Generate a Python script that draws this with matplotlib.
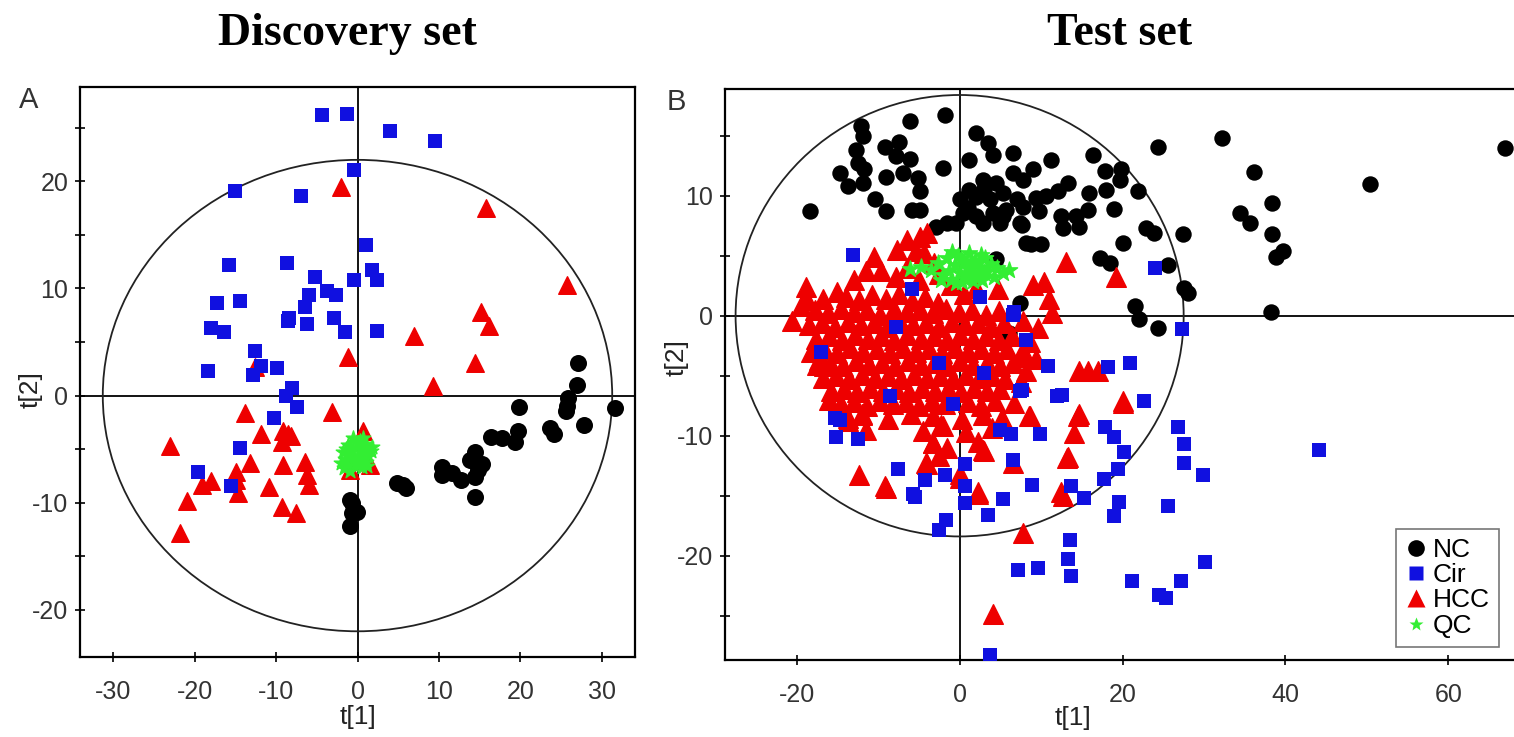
import numpy as np
import matplotlib
matplotlib.use("Agg")
import matplotlib.pyplot as plt
from matplotlib.patches import Ellipse
from matplotlib.lines import Line2D
from matplotlib.ticker import MultipleLocator

plt.rcParams['font.family'] = ['Liberation Sans', 'DejaVu Sans']
plt.rcParams['axes.unicode_minus'] = False

# ---------------- data: Discovery set (panel A) ----------------
A_nc = [(27.1,3.0),(27.0,1.0),(25.9,-0.2),(25.8,-1.0),(25.6,-1.4),(31.6,-1.2),(19.8,-1.1),
        (27.8,-2.7),(23.6,-3.0),(24.1,-3.6),(19.7,-3.3),(19.3,-4.3),(17.8,-4.0),(16.4,-3.9),
        (14.4,-5.3),(13.8,-6.0),(15.3,-6.4),(14.8,-6.9),(10.4,-6.7),(10.4,-7.4),(11.6,-7.2),
        (12.7,-7.9),(14.4,-7.6),(14.4,-9.5),(4.9,-8.2),(5.6,-8.3),(5.9,-8.6),(-0.9,-9.7),
        (-0.1,-10.9),(-0.7,-11.0),(-0.9,-12.2),(-0.7,-10.0)]
A_cir = [(-4.4,26.2),(-1.3,26.3),(4.0,24.7),(9.5,23.8),(-0.4,21.1),(-15.1,19.1),(-6.9,18.6),
         (1.1,14.1),(-15.8,12.2),(-8.7,12.4),(-5.2,11.1),(-0.4,10.8),(1.8,11.7),(2.4,10.8),
         (-17.3,8.6),(-14.5,8.8),(-6.0,9.4),(-3.8,9.8),(-2.7,9.4),(-6.4,8.3),(-8.4,7.2),
         (-8.6,7.0),(-6.2,6.7),(-2.9,7.2),(-1.5,5.9),(2.4,6.0),(-18.0,6.3),(-16.4,5.9),
         (-12.6,4.2),(-11.8,2.8),(-9.9,2.6),(-18.4,2.3),(-12.9,1.9),(-8.0,0.7),(-8.8,0.0),
         (-7.4,-1.1),(-10.2,-2.1),(-14.5,-4.9),(-19.6,-7.1),(-15.6,-8.4)]
A_hcc = [(-2.0,19.5),(15.8,17.5),(25.8,10.3),(15.2,7.8),(16.1,6.5),(6.9,5.6),(-1.2,3.6),
         (14.4,3.0),(-12.6,2.7),(9.3,0.9),(-13.8,-1.6),(-3.1,-1.5),(-23.0,-4.7),(-11.8,-3.6),
         (-9.2,-3.3),(-8.6,-3.6),(-9.3,-4.3),(-8.2,-3.8),(0.7,-3.3),(-13.2,-6.3),(-9.1,-6.5),
         (-6.4,-6.2),(-6.2,-7.4),(-6.0,-8.3),(-14.9,-7.1),(-14.9,-7.9),(-18.0,-8.0),(-19.1,-8.3),
         (-14.7,-9.1),(-10.9,-8.5),(-21.0,-9.8),(-9.3,-10.4),(-7.6,-11.0),(-21.8,-12.8),
         (-0.9,-6.9),(1.5,-6.5)]
A_qc = [(-0.5,-4.0),(0.3,-4.2),(1.0,-4.5),(-1.2,-4.6),(-0.2,-4.8),(0.8,-5.0),(1.6,-5.2),
        (-1.8,-5.3),(-1.0,-5.4),(0.0,-5.5),(0.6,-5.7),(1.3,-5.6),(-1.5,-5.9),(-0.6,-6.0),
        (0.2,-6.1),(1.0,-6.2),(-2.0,-6.3),(-1.2,-6.5),(-0.3,-6.6),(0.5,-6.7),(-0.9,-7.0),
        (0.1,-4.4),(-0.8,-5.1),(1.8,-4.8),(-1.6,-6.8),(0.7,-4.0),(0.4,-5.3),(-0.4,-5.9),
        (-1.4,-5.0),(1.2,-6.6)]

# ---------------- data: Test set (panel B) ----------------
B_nc = [(-18.4,8.7),(-12.1,15.8),(-12.7,13.8),(-12.5,12.7),(-14.7,11.9),(-13.7,10.8),(-11.9,11.1),
        (-11.7,12.2),(-10.4,9.7),(-9.0,8.7),(-9.2,14.1),(-7.4,14.5),(-6.1,16.2),(-1.8,16.7),
        (-7.8,13.3),(-6.1,13.1),(-9.0,11.6),(-7.0,11.9),(-5.1,11.5),(-4.9,10.4),(-5.9,8.8),
        (-4.9,8.8),(-2.1,12.3),(-2.9,7.4),(-1.6,7.7),(0.0,9.7),(1.2,10.5),(2.0,15.2),(3.5,14.4),
        (4.1,13.4),(6.5,13.6),(1.2,13.0),(2.9,11.3),(4.5,11.1),(6.5,11.9),(7.8,11.3),(2.0,9.9),
        (3.7,9.7),(5.3,10.2),(7.0,9.7),(0.4,8.6),(2.0,8.3),(4.1,8.6),(5.7,8.8),(7.4,7.7),
        (4.9,7.7),(2.9,7.7),(-0.4,7.7),(8.2,6.1),(4.5,4.7),(-11.9,15.0),(1.0,9.0),(3.0,10.6),
        (24.3,14.1),(32.2,14.8),(67.0,14.0),(50.4,11.0),(36.1,12.0),(38.4,9.4),(34.4,8.6),
        (35.7,7.7),(38.4,6.8),(39.7,5.4),(38.8,4.9),(38.2,0.3),(16.4,13.4),(17.8,12.1),
        (19.8,12.2),(19.7,11.3),(21.9,10.4),(11.2,13.0),(9.0,12.2),(13.3,11.1),(12.1,10.4),
        (15.9,10.2),(18.0,10.5),(19.0,8.9),(15.7,8.8),(14.3,8.3),(12.5,8.3),(9.8,8.7),(7.8,9.1),
        (5.3,8.3),(7.6,7.6),(12.7,7.3),(14.7,7.4),(22.9,7.3),(23.9,6.9),(27.4,6.8),(20.0,6.1),
        (8.8,6.0),(10.0,6.0),(17.2,4.8),(18.4,4.4),(25.6,4.2),(27.6,2.3),(28.0,1.9),(21.5,0.8),
        (22.0,-0.3),(24.3,-1.0),(7.4,1.1),(6.0,-1.4),(10.6,10.0),(9.4,9.8)]
B_cir = [(27.3,-1.1),(10.8,-4.2),(18.2,-4.3),(20.9,-3.9),(11.9,-6.7),(12.6,-6.6),(22.6,-7.1),
         (17.8,-9.3),(18.9,-10.1),(20.2,-11.4),(26.8,-9.3),(27.5,-10.7),(27.5,-12.3),(29.9,-13.3),
         (19.4,-12.8),(17.7,-13.6),(44.1,-11.2),(9.9,-9.9),(4.9,-9.5),(6.3,-9.9),(6.5,-12.0),
         (8.9,-14.1),(13.7,-14.2),(15.3,-15.2),(5.3,-15.3),(19.6,-15.5),(18.9,-16.7),(25.6,-15.9),
         (3.5,-16.6),(0.6,-12.4),(0.7,-14.2),(0.7,-15.6),(-1.8,-13.3),(-4.3,-13.7),(-7.6,-12.8),
         (-5.5,-15.1),(-1.7,-17.0),(-2.5,-17.9),(13.5,-18.7),(13.3,-20.3),(13.7,-21.7),(7.2,-21.2),
         (9.6,-21.0),(21.1,-22.1),(27.2,-22.1),(30.1,-20.5),(24.5,-23.3),(25.3,-23.5),(3.7,-28.3),
         (-0.8,-7.4),(7.4,-6.3),(-13.1,5.1),(-15.3,-8.5),(-15.2,-10.1),(-12.5,-10.3),(6.7,0.3),
         (24.0,4.0),(-5.9,2.2),(2.5,1.6),(6.5,0.1),(-7.8,-0.9),(-17.0,-3.0),(-2.5,-3.9),
         (-8.6,-6.7),(-14.7,-8.7),(7.6,-6.2),(8.2,-2.0),(-5.7,-14.9),(3.0,-4.8)]
B_hcc = [(-6.5,6.3),(-4.9,6.6),(-4.0,6.9),(-7.7,5.5),(-5.3,5.4),(-10.5,4.9),(-11.5,3.7),(-9.7,3.7),
         (-4.4,5.2),(-3.2,4.4),(-6.4,4.0),(-7.8,3.2),(-5.0,3.0),(-2.5,3.5),(-13.0,3.0),(-18.8,2.4),
         (-15.1,2.0),(-20.6,-0.4),(-19.5,0.8),(-18.7,1.3),(-16.8,1.4),(-1.0,2.6),(2.0,2.3),(4.7,2.2),
         (9.0,2.6),(10.3,2.8),(11.0,1.4),(11.3,0.2),(13.0,4.5),(19.2,3.2),(0.5,1.8),
         (-14.0,1.6),(-12.3,1.3),(-10.8,1.7),(-9.0,1.4),(-7.5,1.8),(-5.9,1.2),(-4.2,1.6),(-2.6,1.1),
         (-17.8,0.5),(-16.2,0.2),(-14.6,0.6),(-13.0,0.3),(-11.4,0.5),(-9.8,0.1),(-8.1,0.6),(-6.5,0.3),
         (-4.9,0.5),(-3.3,0.2),(-1.7,0.6),(-0.1,0.3),(1.5,0.5),(3.2,0.1),(4.8,0.4),
         (-18.5,-0.8),(-16.9,-0.6),(-15.3,-0.9),(-13.7,-0.5),(-12.1,-0.8),(-10.5,-0.6),(-8.9,-0.9),
         (-7.3,-0.5),(-5.7,-0.8),(-4.1,-0.6),(-2.5,-0.9),(-0.9,-0.5),(0.7,-0.8),(2.3,-0.6),(3.9,-0.9),
         (5.5,-0.6),(7.8,-0.4),(9.6,-1.0),
         (-17.6,-1.9),(-16.0,-1.7),(-14.4,-2.0),(-12.8,-1.6),(-11.2,-1.9),(-9.6,-1.7),(-8.0,-2.0),
         (-6.4,-1.6),(-4.8,-1.9),(-3.2,-1.7),(-1.6,-2.0),(0.0,-1.6),(1.6,-1.9),(3.2,-1.7),(4.8,-2.0),
         (6.4,-1.7),(8.7,-2.2),
         (-18.2,-3.0),(-16.6,-2.8),(-15.0,-3.1),(-13.4,-2.7),(-11.8,-3.0),(-10.2,-2.8),(-8.6,-3.1),
         (-7.0,-2.7),(-5.4,-3.0),(-3.8,-2.8),(-2.2,-3.1),(-0.6,-2.7),(1.0,-3.0),(2.6,-2.8),(4.2,-3.1),
         (5.8,-2.8),(7.5,-3.2),(9.4,-3.6),
         (-17.5,-4.1),(-15.9,-3.9),(-14.3,-4.2),(-12.7,-3.8),(-11.1,-4.1),(-9.5,-3.9),(-7.9,-4.2),
         (-6.3,-3.8),(-4.7,-4.1),(-3.1,-3.9),(-1.5,-4.2),(0.1,-3.8),(1.7,-4.1),(3.3,-3.9),(4.9,-4.2),
         (6.5,-3.9),(8.2,-4.6),
         (-16.8,-5.2),(-15.2,-5.0),(-13.6,-5.3),(-12.0,-4.9),(-10.4,-5.2),(-8.8,-5.0),(-7.2,-5.3),
         (-5.6,-4.9),(-4.0,-5.2),(-2.4,-5.0),(-0.8,-5.3),(0.8,-4.9),(2.4,-5.2),(4.0,-5.0),(5.6,-5.3),
         (7.5,-5.5),
         (-15.8,-6.3),(-14.2,-6.1),(-12.6,-6.4),(-11.0,-6.0),(-9.4,-6.3),(-7.8,-6.1),(-6.2,-6.4),
         (-4.6,-6.0),(-3.0,-6.3),(-1.4,-6.1),(0.2,-6.4),(1.8,-6.0),(3.4,-6.3),(5.0,-6.1),
         (-14.6,-7.4),(-13.0,-7.2),(-11.4,-7.5),(-9.8,-7.1),(-8.2,-7.4),(-6.6,-7.2),(-5.0,-7.5),
         (-3.4,-7.1),(-1.8,-7.4),(1.0,-7.2),(2.6,-7.5),(4.4,-7.1),
         (-13.7,-8.5),(-12.0,-8.3),(-8.8,-8.6),(-6.0,-8.2),(-3.3,-8.4),(0.3,-8.6),(2.9,-8.3),
         (5.2,-8.5),(8.7,-8.4),(-11.5,-9.5),(-4.5,-9.6),(-2.3,-9.1),(0.8,-9.7),(4.0,-9.4),
         (-3.3,-10.6),(2.3,-10.5),(-1.5,-11.0),(-16.0,-7.0),(-13.7,-8.8),(-12.0,-8.2),
         (14.6,-4.6),(15.7,-4.6),(17.0,-4.6),(20.0,-7.1),(14.6,-8.2),(14.1,-9.8),(13.3,-11.8),
         (12.5,-14.7),(7.8,-18.1),(4.1,-24.9),(8.5,-8.4),(6.5,-12.3),(2.9,-11.2),(2.2,-14.7),
         (0.0,-13.2),(-9.1,-14.2),(-4.1,-12.3),(-2.5,-11.7),(-3.3,-10.6),(-2.0,-9.2),(8.2,-3.4),
         (6.7,-7.3),(-12.3,-13.3),(-9.0,-14.4),(-4.0,-12.4),(0.1,-13.5),(2.3,-14.9),(3.0,-11.3),
         (12.7,-15.0),(13.2,-11.9),(14.5,-8.4),(20.0,-7.3),(-16.7,-4.2),(-17.3,-3.7)]
B_qc = [(-6.1,3.9),(-4.8,4.1),(-3.5,3.8),(-2.6,4.4),(-2.0,3.4),(-1.5,4.8),(-1.0,3.0),(-0.6,4.2),
        (-0.2,5.0),(0.0,3.6),(0.3,2.8),(0.5,4.5),(0.8,3.3),(1.1,5.2),(1.3,3.9),(1.6,2.9),
        (1.9,4.6),(2.2,3.5),(2.5,4.1),(2.8,3.0),(3.1,4.8),(3.4,3.7),(3.8,4.3),(4.2,3.2),
        (4.6,4.0),(5.3,3.6),(6.1,3.8),(-1.3,3.7),(-0.4,2.7),(0.9,4.0),(1.8,3.3),(2.6,5.1),
        (-0.9,5.3),(0.2,4.7),(3.0,3.6),(-2.3,3.0),(1.4,4.4),(0.6,3.1)]

legend_labels = ["NC", "Cir", "HCC", "QC"]
titles = ["Discovery set", "Test set"]

# ---------------- styles ----------------
C_NC, C_CIR, C_HCC, C_QC = "#000000", "#1010e0", "#ee0000", "#33ee33"
W, H = 1514, 737

fig = plt.figure(figsize=(W / 100, H / 100), dpi=100)
axA = fig.add_axes([80 / W, (H - 657) / H, 555 / W, 570 / H])
axB = fig.add_axes([725 / W, (H - 660) / H, 800 / W, 571 / H])


def arr(pts):
    a = np.array(pts, dtype=float)
    return a[:, 0], a[:, 1]


def panel(ax, nc, cir, hcc, qc, ell, xlim, ylim, xmaj, ymaj, sizes):
    ax.axhline(0, color="black", lw=1.3, zorder=1)
    ax.axvline(0, color="black", lw=1.3, zorder=1)
    ax.add_patch(Ellipse((0, 0), 2 * ell[0], 2 * ell[1], fill=False,
                         ec="#222222", lw=1.3, zorder=1))
    x, y = arr(nc)
    ax.scatter(x, y, s=sizes[0], marker="o", c=C_NC, lw=0, zorder=2)
    x, y = arr(hcc)
    ax.scatter(x, y, s=sizes[2], marker="^", c=C_HCC, ec=C_HCC, lw=1.0, zorder=3)
    x, y = arr(cir)
    ax.scatter(x, y, s=sizes[1], marker="s", c=C_CIR, lw=0, zorder=4)
    x, y = arr(qc)
    ax.scatter(x, y, s=sizes[3], marker="*", c=C_QC, ec=C_QC, lw=1.0, zorder=5)
    ax.set_xlim(*xlim)
    ax.set_ylim(*ylim)
    ax.xaxis.set_major_locator(MultipleLocator(xmaj))
    ax.yaxis.set_major_locator(MultipleLocator(ymaj))
    ax.yaxis.set_minor_locator(MultipleLocator(ymaj / 2))
    ax.tick_params(which="both", direction="inout", width=1.2, color="black",
                   labelsize=18, labelcolor="#333333")
    ax.tick_params(which="major", length=7)
    ax.tick_params(which="minor", length=7)
    ax.tick_params(axis="x", pad=13)
    ax.tick_params(axis="y", pad=5)
    for sp in ax.spines.values():
        sp.set_linewidth(1.6)
    ax.set_xlabel("t[1]", fontsize=19, color="#222222")
    ax.set_ylabel("t[2]", fontsize=19, color="#222222")


panel(axA, A_nc, A_cir, A_hcc, A_qc, (31.3, 22.0), (-34.1, 34.1), (-24.4, 28.8),
      10, 10, (150, 95, 160, 120))
panel(axB, B_nc, B_cir, B_hcc, B_qc, (27.5, 18.4), (-28.8, 69.4), (-28.7, 18.9),
      20, 10, (140, 95, 200, 150))
axB.spines["right"].set_visible(False)

axA.xaxis.set_label_coords(0.5, -0.085)
axA.yaxis.set_label_coords(-0.068, 0.47)
axB.xaxis.set_label_coords(0.435, -0.08)
axB.yaxis.set_label_coords(-0.046, 0.53)

handles = [Line2D([], [], ls="none", marker="o", ms=12, mfc=C_NC, mec="none"),
           Line2D([], [], ls="none", marker="s", ms=10, mfc=C_CIR, mec="none"),
           Line2D([], [], ls="none", marker="^", ms=13, mfc=C_HCC, mec="none"),
           Line2D([], [], ls="none", marker="*", ms=10, mfc=C_QC, mec="none")]
leg = axB.legend(handles, legend_labels, loc="lower right",
                 bbox_to_anchor=(0.9675, 0.0228), borderaxespad=0, fontsize=19,
                 handlelength=0.8, handletextpad=0.25, labelspacing=0.05, borderpad=0.35,
                 fancybox=False, framealpha=1, edgecolor="#777777")
leg.get_frame().set_linewidth(1.2)

fig.text(347 / W, 1 - 45 / H, titles[0], ha="center", va="baseline",
         fontsize=33, fontweight="bold", family=["Liberation Serif", "DejaVu Serif"])
fig.text(1120 / W, 1 - 45 / H, titles[1], ha="center", va="baseline",
         fontsize=33, fontweight="bold", family=["Liberation Serif", "DejaVu Serif"])
fig.text(19 / W, 1 - 108 / H, "A", fontsize=21, color="#333333", va="baseline")
fig.text(667 / W, 1 - 110 / H, "B", fontsize=21, color="#333333", va="baseline")

fig.savefig("out.png", dpi=100)
